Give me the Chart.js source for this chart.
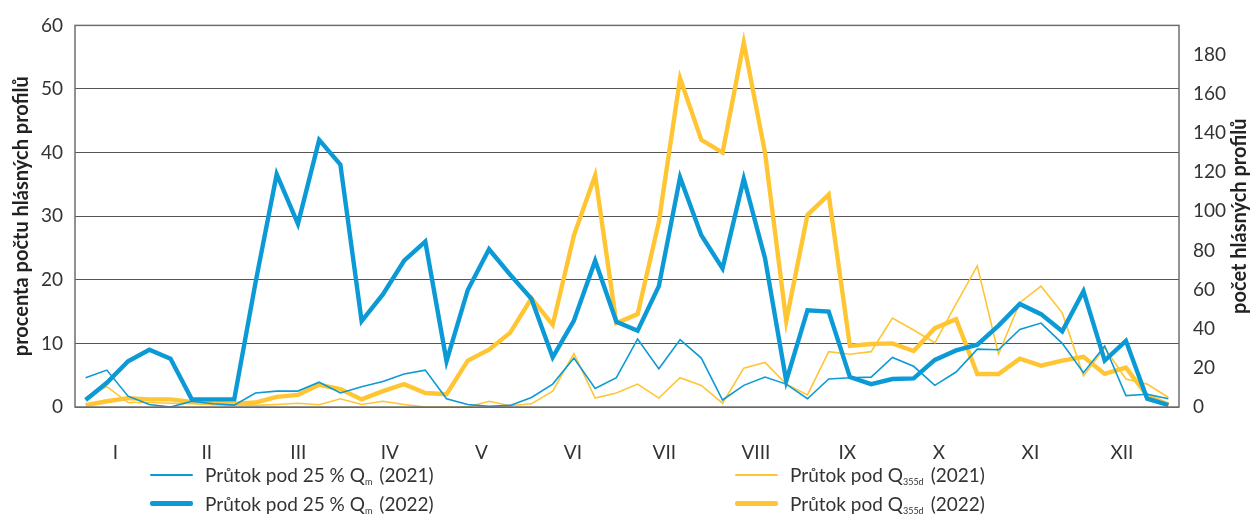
<!DOCTYPE html>
<html lang="cs">
<head>
<meta charset="utf-8">
<title>Průtoky pod 25 % Qm a Q355d</title>
<script src="https://cdn.jsdelivr.net/npm/chart.js@4/dist/chart.umd.min.js"></script>
<style>
  html, body { margin: 0; padding: 0; background: #fff; }
  #wrap { position: relative; width: 1251px; height: 514px; font-family: Lato, "Open Sans", sans-serif; }
  #graf { position: absolute; left: 0; top: 0; }
  .leg { position: absolute; display: flex; align-items: center; font-size: 19px; color: #333; white-space: nowrap; }
  .leg .smp { width: 43px; margin-right: 12px; border-radius: 2px; }
  .leg sub { font-size: 9px; vertical-align: -3px; margin-right: 7px; line-height: 0; }
</style>
</head>
<body>
<div id="wrap">
  <canvas id="graf" width="1251" height="514"></canvas>
  <div class="leg" style="left:150px; top:463px;"><span class="smp" style="height:2px;background:#0c9ad6"></span><span>Průtok pod 25 % Q<sub>m</sub>(2021)</span></div>
  <div class="leg" style="left:150px; top:492px;"><span class="smp" style="height:5px;background:#0c9ad6"></span><span>Průtok pod 25 % Q<sub>m</sub>(2022)</span></div>
  <div class="leg" style="left:735px; top:463px;"><span class="smp" style="height:2px;background:#ffc533"></span><span>Průtok pod Q<sub>355d</sub>(2021)</span></div>
  <div class="leg" style="left:735px; top:492px;"><span class="smp" style="height:5px;background:#ffc533"></span><span>Průtok pod Q<sub>355d</sub>(2022)</span></div>
</div>
<script>
document.addEventListener("DOMContentLoaded", () => {

  /* ========================= */
  /* DATA (týdny 1-52, % profilů) */
  /* ========================= */
  const mesice = ["I", "II", "III", "IV", "V", "VI", "VII", "VIII", "IX", "X", "XI", "XII"];

  const qm2021 = [4.6, 5.8, 1.7, 0.4, 0.0, 0.9, 0.5, 0.3, 2.2, 2.5, 2.5, 3.9, 2.2, 3.2, 4.0, 5.2,
    5.8, 1.3, 0.4, 0.1, 0.25, 1.5, 3.6, 7.7, 2.9, 4.6, 10.7, 6.0, 10.6, 7.7, 1.1, 3.4, 4.7, 3.6,
    1.3, 4.4, 4.6, 4.7, 7.8, 6.4, 3.4, 5.5, 9.1, 9.0, 12.2, 13.2, 10.0, 5.4, 9.6, 1.8, 2.0, 1.3];

  const qm2022 = [1.1, 3.8, 7.2, 9.0, 7.6, 1.2, 1.2, 1.2, 19.5, 36.6, 28.8, 42.0, 38.1, 13.5, 17.7, 23.0,
    26.0, 7.2, 18.4, 24.8, 20.8, 17.0, 7.8, 13.6, 23.0, 13.4, 12.0, 19.0, 36.1, 27.0, 21.8, 35.9,
    23.4, 4.1, 15.2, 15.0, 4.7, 3.6, 4.4, 4.5, 7.4, 8.9, 9.8, 12.8, 16.2, 14.6, 11.9, 18.2, 7.3, 10.4, 1.3, 0.3];

  const q355d2021 = [1.5, 3.2, 0.7, 0.7, 0.6, 0.5, 0.4, 0.3, 0.25, 0.4, 0.6, 0.35, 1.3, 0.4, 0.9, 0.4,
    0.0, 0.0, 0.0, 0.9, 0.2, 0.5, 2.5, 8.4, 1.4, 2.2, 3.6, 1.4, 4.6, 3.4, 0.6, 6.1, 7.0, 3.6, 1.9,
    8.7, 8.3, 8.7, 14.0, 12.1, 10.1, 16.2, 22.2, 8.3, 16.4, 19.0, 14.8, 4.9, 9.3, 4.4, 3.6, 1.5];

  const q355d2022 = [0.3, 0.9, 1.4, 1.2, 1.2, 0.8, 0.6, 0.5, 0.7, 1.6, 1.9, 3.5, 2.8, 1.2, 2.5, 3.6,
    2.2, 2.0, 7.3, 9.0, 11.7, 17.1, 12.9, 27.0, 36.4, 13.2, 14.6, 29.1, 51.7, 42.0, 40.0, 57.3,
    40.0, 13.5, 30.2, 33.4, 9.6, 9.9, 10.0, 8.8, 12.4, 13.8, 5.2, 5.2, 7.6, 6.5, 7.3, 7.9, 5.2, 6.2, 1.8, 0.4];

  const levaOsa = [0, 10, 20, 30, 40, 50, 60];
  const pravaOsa = [0, 20, 40, 60, 80, 100, 120, 140, 160, 180];
  const pocetProfilu = 325; // 100 % = počet hlásných profilů

  const MODRA = "#0c9ad6";
  const ZLUTA = "#ffc533";
  const FONT = "Lato, 'Open Sans', sans-serif";

  const body = arr => arr.map((v, i) => ({ x: i, y: v }));

  /* titulky os (obě čtené zdola nahoru) + rámeček */
  const tituly = {
    id: "tituly",
    afterDraw(chart) {
      const { ctx, chartArea } = chart;
      const stred = (chartArea.top + chartArea.bottom) / 2;
      ctx.save();
      ctx.font = "bold 20px " + FONT;
      ctx.fillStyle = "#222";
      ctx.textAlign = "center";
      ctx.textBaseline = "middle";
      [[22, "procenta počtu hlásných profilů"], [1240, "počet hlásných profilů"]].forEach(([x, t]) => {
        ctx.save();
        ctx.translate(x, stred);
        ctx.rotate(-Math.PI / 2);
        ctx.fillText(t, 0, 0);
        ctx.restore();
      });
      ctx.strokeStyle = "#6f6f6f";
      ctx.lineWidth = 1.5;
      ctx.strokeRect(chartArea.left, chartArea.top, chartArea.right - chartArea.left, chartArea.bottom - chartArea.top);
      ctx.restore();
    }
  };

  const ds = (label, data, color, width) => ({
    label, data: body(data), borderColor: color, backgroundColor: color,
    borderWidth: width, pointRadius: 0, tension: 0, fill: false
  });

  new Chart(document.getElementById("graf").getContext("2d"), {
    type: "line",
    data: {
      datasets: [
        ds("Průtok pod 25 % Qm (2022)", qm2022, MODRA, 4.4),
        ds("Průtok pod 25 % Qm (2021)", qm2021, MODRA, 1.6),
        ds("Průtok pod Q355d (2022)", q355d2022, ZLUTA, 4.4),
        ds("Průtok pod Q355d (2021)", q355d2021, ZLUTA, 1.6)
      ]
    },
    options: {
      responsive: false,
      animation: false,
      layout: { padding: { top: 21, left: 0, right: 0, bottom: 0 } },
      plugins: { legend: { display: false }, tooltip: { enabled: false } },
      scales: {
        x: {
          type: "linear",
          min: -0.5,
          max: qm2022.length - 0.5,
          grid: { display: false },
          border: { display: false },
          afterBuildTicks: s => { s.ticks = mesice.map((m, k) => ({ value: 1.4 + k * 4.31 })); },
          afterFit: s => { s.height = 107; },
          ticks: {
            autoSkip: false, maxRotation: 0, padding: 26,
            color: "#333", font: { family: FONT, size: 19 },
            callback: (v, i) => mesice[i]
          }
        },
        y: {
          position: "left",
          min: 0, max: 60,
          afterBuildTicks: s => { s.ticks = levaOsa.map(v => ({ value: v })); },
          afterFit: s => { s.width = 75; },
          grid: { color: "#555", lineWidth: 1, drawTicks: false },
          border: { display: false },
          ticks: { padding: 12, color: "#333", font: { family: FONT, size: 19 } }
        },
        y2: {
          position: "right",
          min: 0, max: 60 * pocetProfilu / 100,
          afterBuildTicks: s => { s.ticks = pravaOsa.map(v => ({ value: v })); },
          afterFit: s => { s.width = 72; },
          grid: { display: false, drawTicks: false },
          border: { display: false },
          ticks: { padding: 14, color: "#333", font: { family: FONT, size: 19 } }
        }
      }
    },
    plugins: [tituly]
  });
});
</script>
</body>
</html>
